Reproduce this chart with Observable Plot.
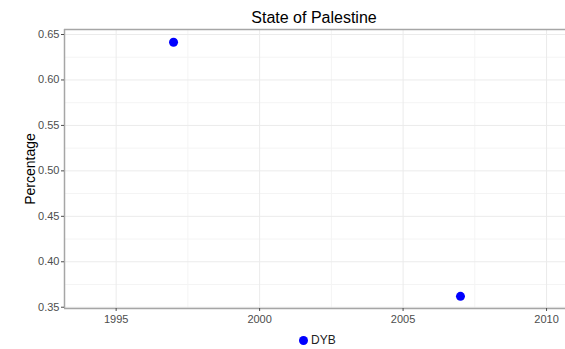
<!DOCTYPE html>
<html>
<head>
<meta charset="utf-8">
<script src="https://cdn.jsdelivr.net/npm/d3@7"></script>
<script src="https://cdn.jsdelivr.net/npm/@observablehq/plot@0.6"></script>
<style>
  html, body { margin: 0; padding: 0; background: #fff; }
  body { width: 565px; height: 349px; overflow: hidden; font-family: "Liberation Sans", Arial, sans-serif; }
  #title { height: 24px; width: 565px; position: relative; }
  #title span { position: absolute; left: 314px; top: 9px; transform: translateX(-50%); font-size: 16px; color: #000; white-space: nowrap; }
  #legend { height: 17px; width: 565px; position: relative; }
  #legend .dot { position: absolute; left: 299px; top: 4px; width: 9px; height: 9px; border-radius: 50%; background: #0000ff; }
  #legend .lab { position: absolute; left: 311px; top: 1px; font-size: 12px; color: #222; }
  svg { display: block; }
</style>
</head>
<body>
<div id="title"><span>State of Palestine</span></div>
<div id="chart"></div>
<div id="legend"><div class="dot"></div><div class="lab">DYB</div></div>
<script>
const seriesName = "DYB";
const years = [1997, 2007];
const values = [0.6415, 0.362];
const xDomain = [1993.2, 2010.66];
const yDomain = [0.3486, 0.6555];
const xTicks = [1995, 2000, 2005, 2010];
const xMinor = [1997.5, 2002.5, 2007.5];
const yTicks = [0.35, 0.40, 0.45, 0.50, 0.55, 0.60, 0.65];
const yMinor = [0.375, 0.425, 0.475, 0.525, 0.575, 0.625];

const data = years.map((y, i) => ({year: y, value: values[i], series: seriesName}));

const plot = Plot.plot({
  width: 565,
  height: 308,
  marginTop: 5,
  marginBottom: 24,
  marginLeft: 64,
  marginRight: 0,
  style: {fontFamily: "Liberation Sans, Arial, sans-serif", fontSize: "11px", color: "#4d4d4d", background: "#fff"},
  x: {domain: xDomain, label: null},
  y: {domain: yDomain, label: null},
  marks: [
    Plot.gridX(xMinor, {stroke: "#f4f4f4", strokeOpacity: 1, strokeWidth: 1}),
    Plot.gridY(yMinor, {stroke: "#f4f4f4", strokeOpacity: 1, strokeWidth: 1}),
    Plot.gridX(xTicks, {stroke: "#ebebeb", strokeOpacity: 1, strokeWidth: 1}),
    Plot.gridY(yTicks, {stroke: "#ebebeb", strokeOpacity: 1, strokeWidth: 1}),
    Plot.ruleY([yDomain[1]], {stroke: "#a6a6a6", strokeWidth: 1.5}),
    Plot.ruleY([yDomain[0]], {stroke: "#a6a6a6", strokeWidth: 1.5}),
    Plot.ruleX([xDomain[0]], {stroke: "#a6a6a6", strokeWidth: 1.5}),
    Plot.axisX(xTicks, {tickSize: 3, tickPadding: 4, stroke: "#4d4d4d", fill: "#4d4d4d", tickFormat: d => String(d), label: null, fontSize: 11}),
    Plot.axisY(yTicks, {tickSize: 3, tickPadding: 2, stroke: "#4d4d4d", fill: "#4d4d4d", tickFormat: d => d.toFixed(2), label: null, fontSize: 11}),
    Plot.text(["Percentage"], {frameAnchor: "left", dx: -34, rotate: -90, textAnchor: "middle", fontSize: 14, fill: "#000"}),
    Plot.dot(data, {x: "year", y: "value", r: 4.5, fill: "#0000ff", stroke: "none"})
  ]
});
document.getElementById("chart").appendChild(plot);
</script>
</body>
</html>
